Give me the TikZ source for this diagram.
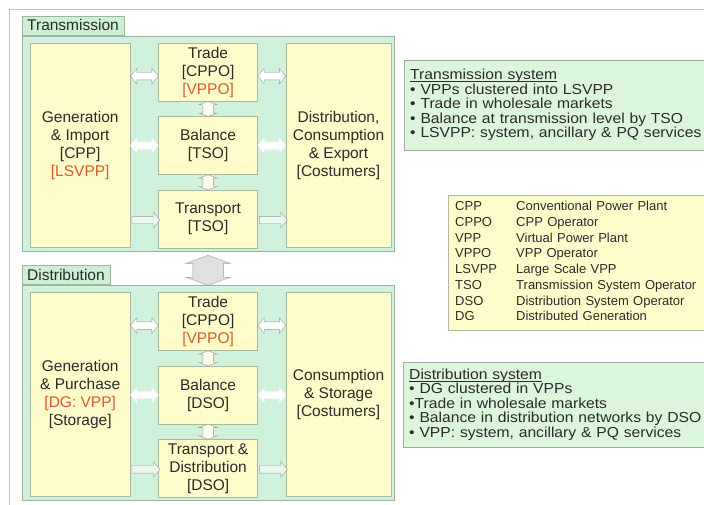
\documentclass[tikz,border=0pt]{standalone}
\usepackage{fontspec}
\setmainfont{Liberation Sans}
\newfontfamily\notefont[FakeStretch=1.08]{Liberation Sans}
\usetikzlibrary{positioning,shapes.arrows,calc}
\definecolor{ink}{HTML}{2B2B2B}
\definecolor{rust}{HTML}{DC5A2C}
\definecolor{mint}{HTML}{D0F1DB}
\definecolor{mintLine}{HTML}{9BB89F}
\definecolor{paleYellow}{HTML}{FFFCCC}
\definecolor{boxLine}{HTML}{A9BA9F}
\definecolor{tabGreen}{HTML}{CDEFD3}
\definecolor{noteGreen}{HTML}{DCF6DC}
\definecolor{noteLine}{HTML}{A4A8A4}
\definecolor{keyLine}{HTML}{B4B6A8}
\definecolor{frameGrey}{HTML}{C4C4C4}
\definecolor{arrowGrey}{HTML}{9C9C9C}
\newcommand{\notetitle}[1]{\underline{\raisebox{0pt}[\height][0pt]{#1}}}
\tikzset{
  panel/.style={rectangle, draw=mintLine, fill=mint, inner sep=0pt,
                minimum width=372pt, minimum height=215pt},
  tab/.style={rectangle, draw=mintLine, fill=tabGreen, inner xsep=5pt, inner ysep=0pt,
              minimum height=19pt, font=\fontsize{15.5}{18}\selectfont, text=ink},
  block/.style={rectangle, draw=boxLine, fill=paleYellow, inner sep=0pt, align=center,
                font=\fontsize{15.5}{18}\selectfont, text=ink},
  side/.style={block, minimum height=204pt},
  stage/.style={block, minimum width=99pt, minimum height=58pt},
  note/.style={rectangle, draw=noteLine, fill=noteGreen, inner xsep=6pt, inner ysep=0pt,
               text width=308pt, align=left, font=\notefont\fontsize{14.5}{14.5}\selectfont, text=ink},
  key/.style={rectangle, draw=keyLine, fill=paleYellow, inner xsep=7pt, inner ysep=0pt,
              text width=300pt, minimum height=135pt, font=\fontsize{13}{15.7}\selectfont, text=ink},
  swap/.style={double arrow, draw=arrowGrey, fill=white, inner xsep=0pt, inner ysep=3.5pt,
               minimum height=28pt, minimum width=15pt, double arrow head extend=4pt,
               double arrow tip angle=100},
  quiet/.style={swap, draw=white!90!arrowGrey},
  feed/.style={single arrow, draw=arrowGrey, fill=white!55!mint, inner xsep=0pt, inner ysep=3.5pt,
               minimum height=28pt, minimum width=15pt, single arrow head extend=4pt,
               single arrow tip angle=100},
  hold/.style={double arrow, rotate=90, draw=arrowGrey, fill=white!60!paleYellow,
               inner xsep=0pt, inner ysep=5pt, minimum height=15pt, minimum width=18pt,
               double arrow head extend=4pt, double arrow tip angle=140},
  bridge/.style={double arrow, rotate=90, draw=arrowGrey, fill=black!12,
                 inner xsep=0pt, inner ysep=15pt, minimum height=30pt, minimum width=44pt,
                 double arrow head extend=7pt, double arrow tip angle=140}
}

\begin{document}
\begin{tikzpicture}[x=1pt, y=-1pt]
\useasboundingbox (0,0) rectangle (704,504);
\clip (0,0) rectangle (704,504);
\node[draw=frameGrey, anchor=north west, minimum width=720pt, minimum height=510pt] (frame) at (9,9) {};

% transmission level
\node[panel, anchor=north west] (tpanel) at (22,36) {};
\node[tab, above right=1pt and 0pt of tpanel.north west] (ttab) {Transmission};
\node[side, minimum width=100pt, anchor=north west] (tgen) at ($(tpanel.north west)+(8,7)$)
  {Generation\\\& Import\\{[CPP]}\\\textcolor{rust}{[LSVPP]}};
\node[stage, right=28pt of tgen.north east, anchor=north west] (ttrade) {Trade\\{[CPPO]}\\\textcolor{rust}{[VPPO]}};
\node[stage, below=15pt of ttrade] (tbal) {Balance\\{[TSO]}};
\node[stage, below=15pt of tbal] (ttrans) {Transport\\{[TSO]}};
\node[side, minimum width=105pt, right=28pt of ttrade.north east, anchor=north west] (tcons)
  {Distribution,\\Consumption\\\& Export\\{[Costumers]}};

% distribution level
\node[panel, below=34pt of tpanel.south west, anchor=north west] (dpanel) {};
\node[tab, above right=1pt and 0pt of dpanel.north west] (dtab) {Distribution};
\node[side, minimum width=100pt, anchor=north west] (dgen) at ($(dpanel.north west)+(8,7)$)
  {Generation\\\& Purchase\\\textcolor{rust}{[DG: VPP]}\\{[Storage]}};
\node[stage, right=28pt of dgen.north east, anchor=north west] (dtrade) {Trade\\{[CPPO]}\\\textcolor{rust}{[VPPO]}};
\node[stage, below=15pt of dtrade] (dbal) {Balance\\{[DSO]}};
\node[stage, below=15pt of dbal] (dtrans) {Transport \&\\Distribution\\{[DSO]}};
\node[side, minimum width=105pt, right=28pt of dtrade.north east, anchor=north west] (dcons)
  {Consumption\\\& Storage\\{[Costumers]}};

% flows between the blocks
\node[swap] (tswapl) at ($(ttrade.west)+(-14,4)$) {};
\node[swap] (tswapr) at ($(ttrade.east)+(14,4)$) {};
\node[quiet] (tquietl) at ($(tbal.west)+(-14,0)$) {};
\node[quiet] (tquietr) at ($(tbal.east)+(14,0)$) {};
\node[feed] (tfeedl) at ($(ttrans.west)+(-14,1)$) {};
\node[feed] (tfeedr) at ($(ttrans.east)+(14,1)$) {};
\node[hold] (tholdu) at ($(ttrade.south)!.5!(tbal.north)$) {};
\node[hold] (tholdd) at ($(tbal.south)!.5!(ttrans.north)$) {};

\node[swap] (dswapl) at ($(dtrade.west)+(-14,4)$) {};
\node[swap] (dswapr) at ($(dtrade.east)+(14,4)$) {};
\node[quiet] (dquietl) at ($(dbal.west)+(-14,0)$) {};
\node[quiet] (dquietr) at ($(dbal.east)+(14,0)$) {};
\node[feed] (dfeedl) at ($(dtrans.west)+(-14,1)$) {};
\node[feed] (dfeedr) at ($(dtrans.east)+(14,1)$) {};
\node[hold] (dholdu) at ($(dtrade.south)!.5!(dbal.north)$) {};
\node[hold] (dholdd) at ($(dbal.south)!.5!(dtrans.north)$) {};

\node[bridge] (link) at ($(ttrans.south)!.5!(dtrade.north)$) {};

% notes on the right
\node[note, anchor=north west, minimum height=90pt] (tnote) at (404,60)
  {\notetitle{Transmission system}\\• VPPs clustered into LSVPP\\• Trade in wholesale markets\\%
   • Balance at transmission level by TSO\\• LSVPP: system, ancillary \& PQ services};
\node[key, anchor=north west] (legend) at (448,195)
  {\begin{tabular}{@{}p{61pt}@{}l@{}}
   CPP & Conventional Power Plant\\
   CPPO & CPP Operator\\
   VPP & Virtual Power Plant\\
   VPPO & VPP Operator\\
   LSVPP & Large Scale VPP\\
   TSO & Transmission System Operator\\
   DSO & Distribution System Operator\\
   DG & Distributed Generation
   \end{tabular}};
\node[note, anchor=north west, minimum height=85pt] (dnote) at (403,362)
  {\notetitle{Distribution system}\\• DG clustered in VPPs\\•Trade in wholesale markets\\%
   • Balance in distribution networks by DSO\\• VPP: system, ancillary \& PQ services};
\end{tikzpicture}
\end{document}
